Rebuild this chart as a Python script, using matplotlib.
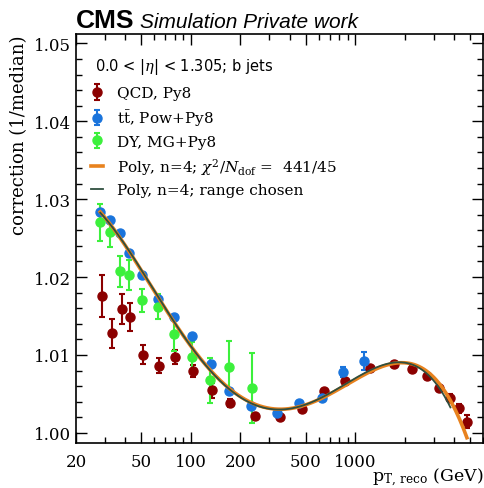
import numpy as np
import matplotlib
matplotlib.use("Agg")
import matplotlib.pyplot as plt
from matplotlib.ticker import FixedLocator, NullFormatter, MultipleLocator, FormatStrFormatter

plt.rcParams["mathtext.fontset"] = "dejavuserif"

# QCD, Pythia8
qcd_pt = [28.9, 32.9, 37.9, 42.4, 51.1, 64.3, 80.3, 103.7, 133.7, 172.8, 245.9, 348,
          473, 646, 871, 1232, 1734, 2232, 2732, 3246, 3752, 4256, 4788]
qcd_corr = [1.01753, 1.01276, 1.01590, 1.01491, 1.01004, 1.00863, 1.00968, 1.00791,
            1.00545, 1.00388, 1.00214, 1.00205, 1.00305, 1.00535, 1.00671, 1.00831,
            1.00881, 1.00824, 1.00727, 1.00577, 1.00453, 1.00317, 1.00145]
qcd_err = [0.0027, 0.0019, 0.0019, 0.0018, 0.0012, 0.0010, 0.0009, 0.0008, 0.0010,
           0.0005, 0.0004, 0.0003, 0.0003, 0.0003, 0.0003, 0.0003, 0.0003, 0.0003,
           0.0003, 0.0004, 0.0005, 0.0006, 0.0008]

# ttbar, Powheg+Pythia8
tt_pt = [28.1, 32.3, 37.1, 42.0, 50.3, 63.2, 79.4, 101.9, 131.8, 169.5, 233.8, 336,
         456, 626, 840, 1128]
tt_corr = [1.02829, 1.02731, 1.02564, 1.02308, 1.02022, 1.01718, 1.01487, 1.01240,
           1.00887, 1.00542, 1.00342, 1.00256, 1.00387, 1.00449, 1.00782, 1.00923]
tt_err = [0.0002, 0.0002, 0.0002, 0.0002, 0.0002, 0.0002, 0.0002, 0.0002, 0.0002,
          0.0002, 0.0002, 0.0002, 0.0002, 0.0002, 0.0006, 0.0011]

# DY, MadGraph+Pythia8
dy_pt = [28.1, 32.3, 37.0, 42.0, 50.2, 63.0, 79.2, 101.6, 131.0, 169.5, 234]
dy_corr = [1.02701, 1.02573, 1.02073, 1.02029, 1.01701, 1.01622, 1.01273, 1.00971,
           1.00676, 1.00842, 1.00573]
dy_err = [0.0024, 0.0019, 0.0020, 0.0019, 0.0015, 0.0016, 0.0022, 0.0020, 0.0029,
          0.0034, 0.0045]

chosen_max_pt = 3800

x_ticks = [20, 50, 100, 200, 500, 1000]

# 4th order polynomial in log10(pT), fitted to all samples
all_pt = np.array(qcd_pt + tt_pt + dy_pt)
all_corr = np.array(qcd_corr + tt_corr + dy_corr)
all_err = np.array(qcd_err + tt_err + dy_err)
coef_all = np.polyfit(np.log10(all_pt), all_corr, 4, w=1 / all_err)
sel = all_pt <= chosen_max_pt
coef_sel = np.polyfit(np.log10(all_pt[sel]), all_corr[sel], 4, w=1 / all_err[sel])

fig = plt.figure(figsize=(4.85, 4.89), dpi=100)
ax = fig.add_axes([0.1567, 0.092, 0.8392, 0.8364])

ekw = dict(fmt="o", markersize=6.5, capsize=2.5, elinewidth=1.5, capthick=1.5)
h_qcd = ax.errorbar(qcd_pt, qcd_corr, yerr=qcd_err, color="#8b0000", label="QCD, Py8", zorder=3, **ekw)
h_tt = ax.errorbar(tt_pt, tt_corr, yerr=tt_err, color="#1a74dc",
                   label=r"$\mathrm{t\bar{t}}$, Pow+Py8", zorder=3, **ekw)
h_dy = ax.errorbar(dy_pt, dy_corr, yerr=dy_err, color="#3cf03c", label="DY, MG+Py8", zorder=3, **ekw)

xx = np.logspace(np.log10(min(all_pt)), np.log10(max(all_pt)), 300)
h_all, = ax.plot(xx, np.polyval(coef_all, np.log10(xx)), color="#e8821e", lw=2.6, zorder=4,
                 label=r"Poly, n=4; $\chi^2/N_{\rm dof}$ =  441/45")
xs = np.logspace(np.log10(min(all_pt)), np.log10(chosen_max_pt), 300)
h_sel, = ax.plot(xs, np.polyval(coef_sel, np.log10(xs)), color="#2f4f3f", lw=1.3, zorder=5,
                 label="Poly, n=4; range chosen")

ax.set_xscale("log")
ax.set_xlim(20, 6000)
ax.set_ylim(0.9987, 1.0512)
ax.xaxis.set_major_locator(FixedLocator(x_ticks))
ax.set_xticklabels([str(t) for t in x_ticks])
ax.xaxis.set_minor_formatter(NullFormatter())
ax.yaxis.set_major_locator(MultipleLocator(0.01))
ax.yaxis.set_minor_locator(MultipleLocator(0.002))
ax.yaxis.set_major_formatter(FormatStrFormatter("%.2f"))
ax.tick_params(which="both", direction="in", top=True, right=True, labelsize=12)
ax.tick_params(which="major", length=8, width=1)
ax.tick_params(which="minor", length=4, width=1)
ax.tick_params(axis="x", which="major", pad=7)
for lab in ax.get_xticklabels() + ax.get_yticklabels():
    lab.set_family("DejaVu Serif")
for s in ax.spines.values():
    s.set_linewidth(1.2)

ax.set_xlabel(r"$\mathrm{p_{T,\,reco}}$ (GeV)", family="DejaVu Serif", fontsize=12.5, loc="right")
ax.xaxis.set_label_coords(1.0, -0.056)
ax.set_ylabel("correction (1/median)", family="DejaVu Serif", fontsize=13, loc="top")

ax.text(0.047, 0.922, r"0.0 < |$\eta$| < 1.305; b jets", transform=ax.transAxes,
        fontsize=10.5, family="DejaVu Sans", va="center")
ax.legend(handles=[h_qcd, h_tt, h_dy, h_all, h_sel], loc="upper left",
          bbox_to_anchor=(0.01, 0.898), frameon=False,
          prop={"family": "DejaVu Serif", "size": 11}, handlelength=0.8,
          handletextpad=0.9, labelspacing=0.45, borderaxespad=0.3)

fig.text(0.157, 0.943, "CMS", fontsize=19, fontweight="bold", family="Liberation Sans", va="baseline")
fig.text(0.289, 0.943, "Simulation Private work", fontsize=15, style="italic",
         family="Liberation Sans", va="baseline")

fig.savefig("out.png", dpi=100)
